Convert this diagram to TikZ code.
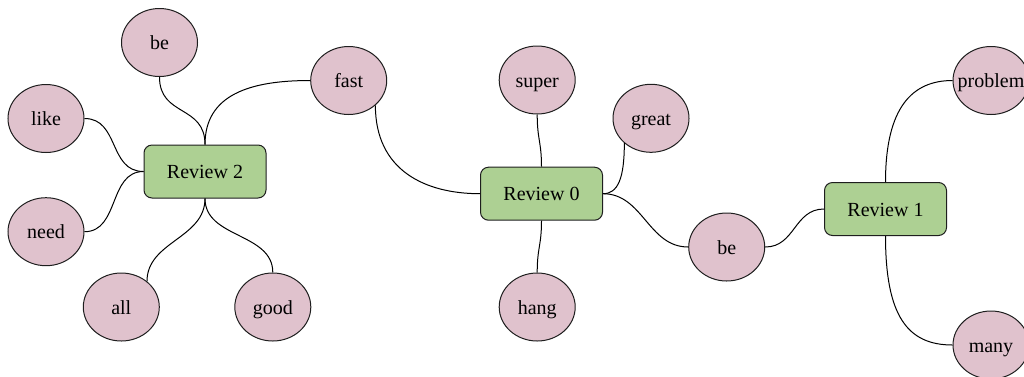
\documentclass[tikz,border=0pt]{standalone}
\usepackage{fontspec}
\setmainfont{Liberation Serif}
\usetikzlibrary{shapes.geometric}
\definecolor{wordfill}{RGB}{224,194,205}
\definecolor{reviewfill}{RGB}{173,208,147}
\definecolor{edgeline}{RGB}{30,30,30}
\tikzset{
  word/.style={ellipse, draw=edgeline, fill=wordfill, line width=1pt,
    minimum width=76pt, minimum height=68pt, inner sep=0pt,
    text height=14pt, text depth=0pt,
    font=\fontsize{20}{24}\selectfont},
  review/.style={rectangle, rounded corners=8pt, draw=edgeline, fill=reviewfill,
    line width=1pt, minimum width=122pt, minimum height=53pt, inner sep=0pt,
    text height=14pt, text depth=0pt,
    font=\fontsize{20}{24}\selectfont},
  link/.style={draw=black, line width=1pt}
}
% word label with zero width so long words do not widen the ellipse
\newcommand{\wordtext}[1]{\makebox[0pt]{#1}}
\begin{document}
\begin{tikzpicture}[x=1pt, y=-1pt]
  \useasboundingbox (0,0) rectangle (1024,376);

  % review hubs
  \node[review] (r2) at (205,171.5) {Review 2};
  \node[review] (r0) at (541.5,193.7) {Review 0};
  \node[review] (r1) at (885.5,209) {Review 1};

  % words around Review 2
  \node[word] (be2)   at (159.5,42.5) {\wordtext{be}};
  \node[word] (fast)  at (348.7,80.5) {\wordtext{fast}};
  \node[word] (like)  at (46,118.5)   {\wordtext{like}};
  \node[word] (need)  at (46,231.7)   {\wordtext{need}};
  \node[word] (all)   at (121.3,307)  {\wordtext{all}};
  \node[word] (good)  at (272.8,307)  {\wordtext{good}};

  % words around Review 0
  \node[word] (super) at (537.2,80)   {\wordtext{super}};
  \node[word] (great) at (651,118.3)  {\wordtext{great}};
  \node[word] (hang)  at (537.2,307)  {\wordtext{hang}};
  \node[word] (be0)   at (726.7,247)  {\wordtext{be}};

  % words around Review 1
  \node[word] (problem) at (991,80.5) {\wordtext{problem}};
  \node[word] (many)    at (991,345)  {\wordtext{many}};

  % connectors
  \draw[link] (be2.south) .. controls +(0,40) and +(0,-40) .. (r2.north);
  \draw[link] (r2.north) .. controls +(0,-50) and +(-60,0) .. (fast.west);
  \draw[link] (like.east) .. controls +(35,0) and +(-35,0) .. (r2.west);
  \draw[link] (need.east) .. controls +(35,0) and +(-35,0) .. (r2.west);
  \draw[link] (all.45) .. controls +(0,-40) and +(0,40) .. (r2.south);
  \draw[link] (good.north) .. controls +(0,-40) and +(0,40) .. (r2.south);

  \draw[link] (fast.-43) .. controls +(0,65) and +(-55,0) .. (r0.west);
  \draw[link] (super.south) .. controls +(0,25) and +(0,-25) .. (r0.north);
  \draw[link] (great.-137) .. controls +(0,35) and +(15,0) .. (r0.east);
  \draw[link] (r0.south) .. controls +(0,25) and +(0,-25) .. (hang.north);
  \draw[link] (r0.east) .. controls +(40,0) and +(-40,0) .. (be0.west);

  \draw[link] (be0.east) .. controls +(30,0) and +(-30,0) .. (r1.west);
  \draw[link] (r1.north) .. controls +(0,-75) and +(-40,0) .. (problem.west);
  \draw[link] (r1.south) .. controls +(0,80) and +(-45,0) .. (many.west);
\end{tikzpicture}
\end{document}
